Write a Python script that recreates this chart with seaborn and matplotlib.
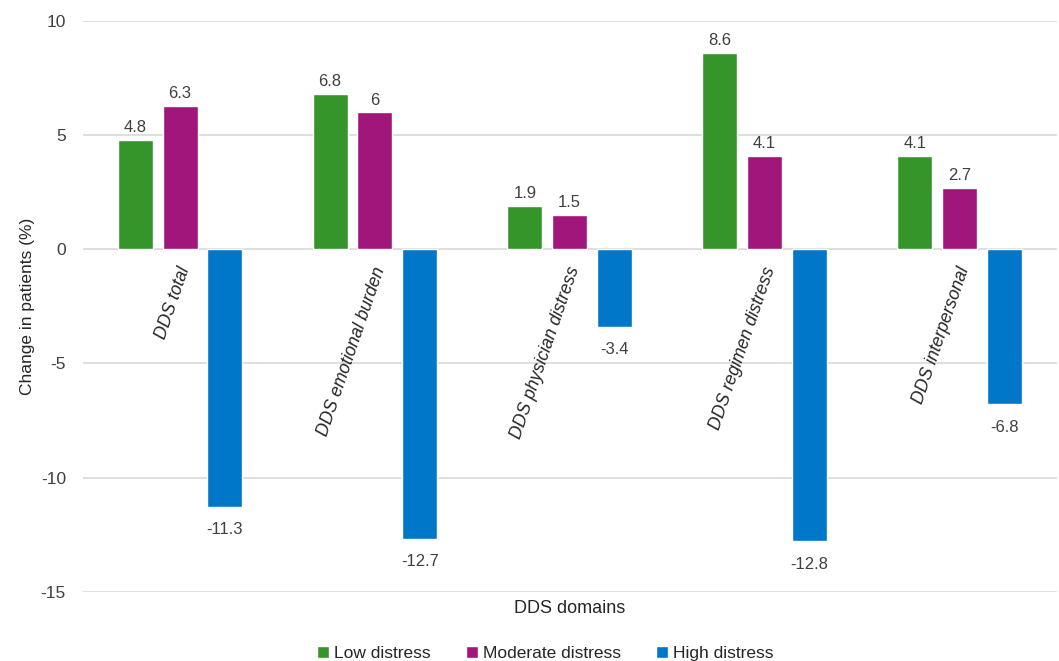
import pandas as pd
import seaborn as sns
import matplotlib.pyplot as plt

domains = ["DDS total", "DDS emotional burden", "DDS physician distress",
           "DDS regimen distress", "DDS interpersonal"]
low = [4.8, 6.8, 1.9, 8.6, 4.1]
moderate = [6.3, 6.0, 1.5, 4.1, 2.7]
high = [-11.3, -12.7, -3.4, -12.8, -6.8]
groups = ["Low distress", "Moderate distress", "High distress"]
colors = ["#35952A", "#A0167A", "#0077C8"]

df = pd.DataFrame({
    "domain": domains * 3,
    "group": [g for g in groups for _ in domains],
    "value": low + moderate + high,
})

sns.set_style("white")
plt.rcParams["font.family"] = ["Liberation Sans", "DejaVu Sans"]
plt.rcParams["axes.unicode_minus"] = False

fig, ax = plt.subplots(figsize=(10.59, 6.61), dpi=100)
sns.barplot(data=df, x="domain", y="value", hue="group", palette=colors,
            saturation=1, width=0.69, gap=0.22, ax=ax, zorder=3)

# value labels: a bit more room below the negative bars
for cont in ax.containers:
    for bar, v in zip(cont, cont.datavalues):
        pad = 3.5 if v >= 0 else 11
        ax.annotate(f"{v:g}", (bar.get_x() + bar.get_width() / 2, v),
                    xytext=(0, pad if v >= 0 else -pad), textcoords="offset points",
                    ha="center", va="bottom" if v >= 0 else "top",
                    fontsize=12, color="#404040")

# category labels under the zero line
for i, name in enumerate(domains):
    ax.text(i + 0.07, -0.9, name, rotation=71, rotation_mode="anchor",
            ha="right", va="bottom", style="italic", fontsize=12.7,
            color="#262626")

ax.set_ylim(-15, 10)
ax.set_yticks([-15, -10, -5, 0, 5, 10])
ax.yaxis.grid(True, color="#D9D9D9", linewidth=1.2, zorder=0)
ax.set_xticks([])
ax.set_xlabel("DDS domains", fontsize=13, color="#262626", labelpad=6)
ax.set_ylabel("Change in patients (%)", fontsize=12.5, color="#262626")
ax.tick_params(axis="y", labelsize=12.5, labelcolor="#404040", length=0, pad=12)
for s in ax.spines.values():
    s.set_visible(False)

ax.legend(loc="lower center", bbox_to_anchor=(0.475, -0.14), ncol=3,
          frameon=False, fontsize=12.5, handlelength=0.7, handleheight=0.7,
          columnspacing=2.0, handletextpad=0.3, borderpad=0.1)

fig.subplots_adjust(left=0.078, right=0.998, top=0.968, bottom=0.105)
fig.savefig("out.png", dpi=100)
